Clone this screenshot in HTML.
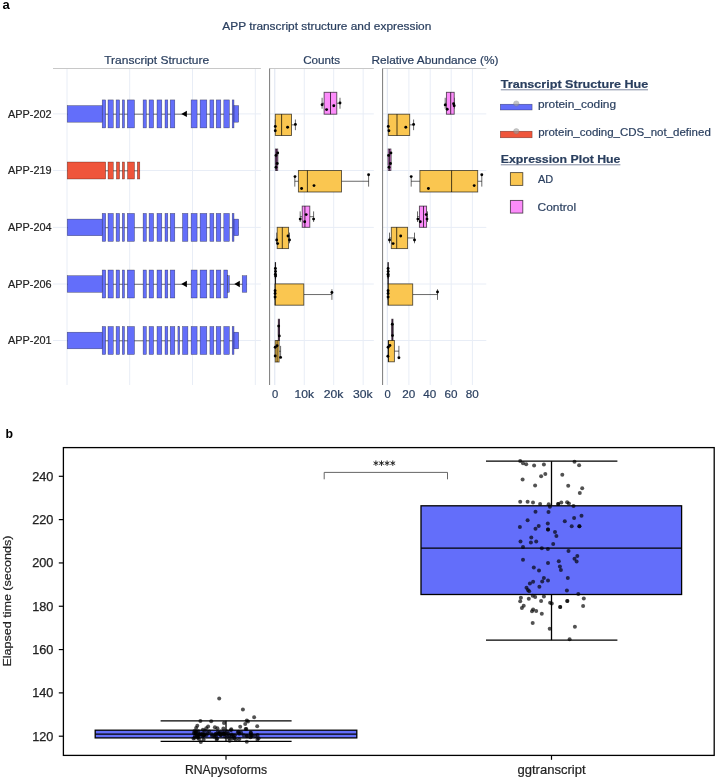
<!DOCTYPE html>
<html><head><meta charset="utf-8"><style>
html,body{margin:0;padding:0;background:#fff;}
svg{display:block;will-change:transform;}
text{font-family:"Liberation Sans",sans-serif;}
</style></head><body>
<svg width="718" height="779" viewBox="0 0 718 779">
<rect width="718" height="779" fill="#fff"/>
<text x="2.60" y="9.20" font-size="13" fill="#000" text-anchor="start" font-weight="bold" >a</text>
<text x="222.30" y="29.50" font-size="10.3" fill="#2a3f5f" text-anchor="start" textLength="209" lengthAdjust="spacingAndGlyphs"  stroke="#2a3f5f" stroke-width="0.2">APP transcript structure and expression</text>
<text x="104.20" y="64.30" font-size="10.8" fill="#2a3f5f" text-anchor="start" textLength="105" lengthAdjust="spacingAndGlyphs"  stroke="#2a3f5f" stroke-width="0.2">Transcript Structure</text>
<text x="303.20" y="64.30" font-size="10.8" fill="#2a3f5f" text-anchor="start" textLength="37" lengthAdjust="spacingAndGlyphs"  stroke="#2a3f5f" stroke-width="0.2">Counts</text>
<text x="371.40" y="64.30" font-size="10.8" fill="#2a3f5f" text-anchor="start" textLength="127" lengthAdjust="spacingAndGlyphs"  stroke="#2a3f5f" stroke-width="0.2">Relative Abundance (%)</text>
<line x1="67.00" y1="68.50" x2="67.00" y2="385.00" stroke="#E8EDF6" stroke-width="1" />
<line x1="129.70" y1="68.50" x2="129.70" y2="385.00" stroke="#E8EDF6" stroke-width="1" />
<line x1="192.50" y1="68.50" x2="192.50" y2="385.00" stroke="#E8EDF6" stroke-width="1" />
<line x1="255.30" y1="68.50" x2="255.30" y2="385.00" stroke="#E8EDF6" stroke-width="1" />
<line x1="53.00" y1="113.90" x2="260.90" y2="113.90" stroke="#E8EDF6" stroke-width="1" />
<line x1="269.60" y1="113.90" x2="373.80" y2="113.90" stroke="#E8EDF6" stroke-width="1" />
<line x1="382.40" y1="113.90" x2="486.30" y2="113.90" stroke="#E8EDF6" stroke-width="1" />
<line x1="53.00" y1="170.50" x2="260.90" y2="170.50" stroke="#E8EDF6" stroke-width="1" />
<line x1="269.60" y1="170.50" x2="373.80" y2="170.50" stroke="#E8EDF6" stroke-width="1" />
<line x1="382.40" y1="170.50" x2="486.30" y2="170.50" stroke="#E8EDF6" stroke-width="1" />
<line x1="53.00" y1="227.40" x2="260.90" y2="227.40" stroke="#E8EDF6" stroke-width="1" />
<line x1="269.60" y1="227.40" x2="373.80" y2="227.40" stroke="#E8EDF6" stroke-width="1" />
<line x1="382.40" y1="227.40" x2="486.30" y2="227.40" stroke="#E8EDF6" stroke-width="1" />
<line x1="53.00" y1="284.00" x2="260.90" y2="284.00" stroke="#E8EDF6" stroke-width="1" />
<line x1="269.60" y1="284.00" x2="373.80" y2="284.00" stroke="#E8EDF6" stroke-width="1" />
<line x1="382.40" y1="284.00" x2="486.30" y2="284.00" stroke="#E8EDF6" stroke-width="1" />
<line x1="53.00" y1="340.50" x2="260.90" y2="340.50" stroke="#E8EDF6" stroke-width="1" />
<line x1="269.60" y1="340.50" x2="373.80" y2="340.50" stroke="#E8EDF6" stroke-width="1" />
<line x1="382.40" y1="340.50" x2="486.30" y2="340.50" stroke="#E8EDF6" stroke-width="1" />
<line x1="274.80" y1="68.50" x2="274.80" y2="385.00" stroke="#DCE3F0" stroke-width="1" />
<line x1="304.25" y1="68.50" x2="304.25" y2="385.00" stroke="#E8EDF6" stroke-width="1" />
<line x1="333.70" y1="68.50" x2="333.70" y2="385.00" stroke="#E8EDF6" stroke-width="1" />
<line x1="363.15" y1="68.50" x2="363.15" y2="385.00" stroke="#E8EDF6" stroke-width="1" />
<line x1="387.30" y1="68.50" x2="387.30" y2="385.00" stroke="#DCE3F0" stroke-width="1" />
<line x1="408.90" y1="68.50" x2="408.90" y2="385.00" stroke="#E8EDF6" stroke-width="1" />
<line x1="430.20" y1="68.50" x2="430.20" y2="385.00" stroke="#E8EDF6" stroke-width="1" />
<line x1="451.20" y1="68.50" x2="451.20" y2="385.00" stroke="#E8EDF6" stroke-width="1" />
<line x1="472.40" y1="68.50" x2="472.40" y2="385.00" stroke="#E8EDF6" stroke-width="1" />
<line x1="53.00" y1="68.50" x2="260.90" y2="68.50" stroke="#C8C8C8" stroke-width="1" />
<line x1="269.60" y1="68.50" x2="373.80" y2="68.50" stroke="#C8C8C8" stroke-width="1" />
<line x1="382.40" y1="68.50" x2="486.30" y2="68.50" stroke="#C8C8C8" stroke-width="1" />
<line x1="269.60" y1="68.50" x2="269.60" y2="385.00" stroke="#7a7a7a" stroke-width="1" />
<line x1="382.60" y1="68.50" x2="382.60" y2="385.00" stroke="#7a7a7a" stroke-width="1" />
<text x="51.60" y="117.80" font-size="11" fill="#222" text-anchor="end" textLength="43.6" lengthAdjust="spacingAndGlyphs"  stroke="#222" stroke-width="0.2">APP-202</text>
<text x="51.60" y="174.40" font-size="11" fill="#222" text-anchor="end" textLength="43.6" lengthAdjust="spacingAndGlyphs"  stroke="#222" stroke-width="0.2">APP-219</text>
<text x="51.60" y="231.30" font-size="11" fill="#222" text-anchor="end" textLength="43.6" lengthAdjust="spacingAndGlyphs"  stroke="#222" stroke-width="0.2">APP-204</text>
<text x="51.60" y="287.90" font-size="11" fill="#222" text-anchor="end" textLength="43.6" lengthAdjust="spacingAndGlyphs"  stroke="#222" stroke-width="0.2">APP-206</text>
<text x="51.60" y="344.40" font-size="11" fill="#222" text-anchor="end" textLength="43.6" lengthAdjust="spacingAndGlyphs"  stroke="#222" stroke-width="0.2">APP-201</text>
<line x1="67.20" y1="114.20" x2="238.70" y2="114.20" stroke="#707070" stroke-width="1" />
<rect x="67.20" y="105.60" width="35.30" height="16.60" fill="#636EFA" stroke="rgba(0,0,0,0.55)" stroke-width="0.5" />
<rect x="102.20" y="99.90" width="3.50" height="28.00" fill="#636EFA" stroke="rgba(0,0,0,0.55)" stroke-width="0.5" />
<rect x="108.00" y="99.90" width="5.30" height="28.00" fill="#636EFA" stroke="rgba(0,0,0,0.55)" stroke-width="0.5" />
<rect x="116.10" y="99.90" width="3.50" height="28.00" fill="#636EFA" stroke="rgba(0,0,0,0.55)" stroke-width="0.5" />
<rect x="122.30" y="99.90" width="2.20" height="28.00" fill="#636EFA" stroke="rgba(0,0,0,0.55)" stroke-width="0.5" />
<rect x="127.30" y="99.90" width="7.20" height="28.00" fill="#636EFA" stroke="rgba(0,0,0,0.55)" stroke-width="0.5" />
<rect x="143.10" y="99.90" width="3.30" height="28.00" fill="#636EFA" stroke="rgba(0,0,0,0.55)" stroke-width="0.5" />
<rect x="149.10" y="99.90" width="4.50" height="28.00" fill="#636EFA" stroke="rgba(0,0,0,0.55)" stroke-width="0.5" />
<rect x="157.00" y="99.90" width="4.80" height="28.00" fill="#636EFA" stroke="rgba(0,0,0,0.55)" stroke-width="0.5" />
<rect x="165.00" y="99.90" width="2.80" height="28.00" fill="#636EFA" stroke="rgba(0,0,0,0.55)" stroke-width="0.5" />
<rect x="170.20" y="99.90" width="4.60" height="28.00" fill="#636EFA" stroke="rgba(0,0,0,0.55)" stroke-width="0.5" />
<rect x="191.10" y="99.90" width="6.00" height="28.00" fill="#636EFA" stroke="rgba(0,0,0,0.55)" stroke-width="0.5" />
<rect x="200.10" y="99.90" width="6.70" height="28.00" fill="#636EFA" stroke="rgba(0,0,0,0.55)" stroke-width="0.5" />
<rect x="209.90" y="99.90" width="3.90" height="28.00" fill="#636EFA" stroke="rgba(0,0,0,0.55)" stroke-width="0.5" />
<rect x="216.20" y="99.90" width="4.60" height="28.00" fill="#636EFA" stroke="rgba(0,0,0,0.55)" stroke-width="0.5" />
<rect x="223.80" y="99.90" width="5.60" height="28.00" fill="#636EFA" stroke="rgba(0,0,0,0.55)" stroke-width="0.5" />
<rect x="232.20" y="99.90" width="1.80" height="28.00" fill="#636EFA" stroke="rgba(0,0,0,0.55)" stroke-width="0.5" />
<rect x="234.00" y="105.60" width="4.70" height="16.60" fill="#636EFA" stroke="rgba(0,0,0,0.55)" stroke-width="0.5" />
<polygon points="181.30,113.90 186.90,110.70 186.90,117.10" fill="#000"/>
<line x1="67.20" y1="170.80" x2="139.80" y2="170.80" stroke="#707070" stroke-width="1" />
<rect x="67.20" y="162.00" width="38.50" height="17.00" fill="#EF553B" stroke="rgba(0,0,0,0.55)" stroke-width="0.5" />
<rect x="108.00" y="162.00" width="5.30" height="17.00" fill="#EF553B" stroke="rgba(0,0,0,0.55)" stroke-width="0.5" />
<rect x="116.40" y="162.00" width="3.20" height="17.00" fill="#EF553B" stroke="rgba(0,0,0,0.55)" stroke-width="0.5" />
<rect x="122.30" y="162.00" width="2.20" height="17.00" fill="#EF553B" stroke="rgba(0,0,0,0.55)" stroke-width="0.5" />
<rect x="127.50" y="162.00" width="7.00" height="17.00" fill="#EF553B" stroke="rgba(0,0,0,0.55)" stroke-width="0.5" />
<rect x="137.30" y="162.00" width="2.50" height="17.00" fill="#EF553B" stroke="rgba(0,0,0,0.55)" stroke-width="0.5" />
<line x1="67.20" y1="227.70" x2="238.70" y2="227.70" stroke="#707070" stroke-width="1" />
<rect x="67.20" y="219.10" width="35.30" height="16.60" fill="#636EFA" stroke="rgba(0,0,0,0.55)" stroke-width="0.5" />
<rect x="102.20" y="213.40" width="3.50" height="28.00" fill="#636EFA" stroke="rgba(0,0,0,0.55)" stroke-width="0.5" />
<rect x="108.00" y="213.40" width="5.30" height="28.00" fill="#636EFA" stroke="rgba(0,0,0,0.55)" stroke-width="0.5" />
<rect x="116.10" y="213.40" width="3.50" height="28.00" fill="#636EFA" stroke="rgba(0,0,0,0.55)" stroke-width="0.5" />
<rect x="122.30" y="213.40" width="2.20" height="28.00" fill="#636EFA" stroke="rgba(0,0,0,0.55)" stroke-width="0.5" />
<rect x="127.30" y="213.40" width="7.20" height="28.00" fill="#636EFA" stroke="rgba(0,0,0,0.55)" stroke-width="0.5" />
<rect x="143.10" y="213.40" width="3.30" height="28.00" fill="#636EFA" stroke="rgba(0,0,0,0.55)" stroke-width="0.5" />
<rect x="149.10" y="213.40" width="4.50" height="28.00" fill="#636EFA" stroke="rgba(0,0,0,0.55)" stroke-width="0.5" />
<rect x="157.00" y="213.40" width="4.80" height="28.00" fill="#636EFA" stroke="rgba(0,0,0,0.55)" stroke-width="0.5" />
<rect x="165.00" y="213.40" width="2.80" height="28.00" fill="#636EFA" stroke="rgba(0,0,0,0.55)" stroke-width="0.5" />
<rect x="170.20" y="213.40" width="4.60" height="28.00" fill="#636EFA" stroke="rgba(0,0,0,0.55)" stroke-width="0.5" />
<rect x="182.50" y="213.40" width="5.40" height="28.00" fill="#636EFA" stroke="rgba(0,0,0,0.55)" stroke-width="0.5" />
<rect x="191.10" y="213.40" width="6.00" height="28.00" fill="#636EFA" stroke="rgba(0,0,0,0.55)" stroke-width="0.5" />
<rect x="200.10" y="213.40" width="6.70" height="28.00" fill="#636EFA" stroke="rgba(0,0,0,0.55)" stroke-width="0.5" />
<rect x="209.90" y="213.40" width="3.90" height="28.00" fill="#636EFA" stroke="rgba(0,0,0,0.55)" stroke-width="0.5" />
<rect x="216.20" y="213.40" width="4.60" height="28.00" fill="#636EFA" stroke="rgba(0,0,0,0.55)" stroke-width="0.5" />
<rect x="223.80" y="213.40" width="5.60" height="28.00" fill="#636EFA" stroke="rgba(0,0,0,0.55)" stroke-width="0.5" />
<rect x="232.20" y="213.40" width="1.80" height="28.00" fill="#636EFA" stroke="rgba(0,0,0,0.55)" stroke-width="0.5" />
<rect x="234.00" y="219.10" width="4.70" height="16.60" fill="#636EFA" stroke="rgba(0,0,0,0.55)" stroke-width="0.5" />
<line x1="67.20" y1="284.30" x2="246.80" y2="284.30" stroke="#707070" stroke-width="1" />
<rect x="67.20" y="275.70" width="35.30" height="16.60" fill="#636EFA" stroke="rgba(0,0,0,0.55)" stroke-width="0.5" />
<rect x="102.20" y="270.00" width="3.50" height="28.00" fill="#636EFA" stroke="rgba(0,0,0,0.55)" stroke-width="0.5" />
<rect x="108.00" y="270.00" width="5.30" height="28.00" fill="#636EFA" stroke="rgba(0,0,0,0.55)" stroke-width="0.5" />
<rect x="116.10" y="270.00" width="3.50" height="28.00" fill="#636EFA" stroke="rgba(0,0,0,0.55)" stroke-width="0.5" />
<rect x="122.30" y="270.00" width="2.20" height="28.00" fill="#636EFA" stroke="rgba(0,0,0,0.55)" stroke-width="0.5" />
<rect x="127.30" y="270.00" width="7.20" height="28.00" fill="#636EFA" stroke="rgba(0,0,0,0.55)" stroke-width="0.5" />
<rect x="143.10" y="270.00" width="3.30" height="28.00" fill="#636EFA" stroke="rgba(0,0,0,0.55)" stroke-width="0.5" />
<rect x="149.10" y="270.00" width="4.50" height="28.00" fill="#636EFA" stroke="rgba(0,0,0,0.55)" stroke-width="0.5" />
<rect x="157.00" y="270.00" width="4.80" height="28.00" fill="#636EFA" stroke="rgba(0,0,0,0.55)" stroke-width="0.5" />
<rect x="165.00" y="270.00" width="2.80" height="28.00" fill="#636EFA" stroke="rgba(0,0,0,0.55)" stroke-width="0.5" />
<rect x="170.20" y="270.00" width="4.60" height="28.00" fill="#636EFA" stroke="rgba(0,0,0,0.55)" stroke-width="0.5" />
<rect x="191.10" y="270.00" width="6.00" height="28.00" fill="#636EFA" stroke="rgba(0,0,0,0.55)" stroke-width="0.5" />
<rect x="200.10" y="270.00" width="6.70" height="28.00" fill="#636EFA" stroke="rgba(0,0,0,0.55)" stroke-width="0.5" />
<rect x="209.90" y="270.00" width="3.90" height="28.00" fill="#636EFA" stroke="rgba(0,0,0,0.55)" stroke-width="0.5" />
<rect x="216.20" y="270.00" width="4.60" height="28.00" fill="#636EFA" stroke="rgba(0,0,0,0.55)" stroke-width="0.5" />
<rect x="223.80" y="270.00" width="3.80" height="28.00" fill="#636EFA" stroke="rgba(0,0,0,0.55)" stroke-width="0.5" />
<rect x="227.60" y="275.70" width="1.80" height="16.60" fill="#636EFA" stroke="rgba(0,0,0,0.55)" stroke-width="0.5" />
<polygon points="181.30,284.00 186.90,280.80 186.90,287.20" fill="#000"/>
<polygon points="234.30,284.00 239.80,280.80 239.80,287.20" fill="#000"/>
<rect x="242.20" y="275.70" width="4.60" height="16.60" fill="#636EFA" stroke="rgba(0,0,0,0.55)" stroke-width="0.5" />
<line x1="67.20" y1="340.80" x2="238.70" y2="340.80" stroke="#707070" stroke-width="1" />
<rect x="67.20" y="332.20" width="35.30" height="16.60" fill="#636EFA" stroke="rgba(0,0,0,0.55)" stroke-width="0.5" />
<rect x="102.20" y="326.50" width="3.50" height="28.00" fill="#636EFA" stroke="rgba(0,0,0,0.55)" stroke-width="0.5" />
<rect x="108.00" y="326.50" width="5.30" height="28.00" fill="#636EFA" stroke="rgba(0,0,0,0.55)" stroke-width="0.5" />
<rect x="116.10" y="326.50" width="3.50" height="28.00" fill="#636EFA" stroke="rgba(0,0,0,0.55)" stroke-width="0.5" />
<rect x="122.30" y="326.50" width="2.20" height="28.00" fill="#636EFA" stroke="rgba(0,0,0,0.55)" stroke-width="0.5" />
<rect x="127.30" y="326.50" width="7.20" height="28.00" fill="#636EFA" stroke="rgba(0,0,0,0.55)" stroke-width="0.5" />
<rect x="143.10" y="326.50" width="3.30" height="28.00" fill="#636EFA" stroke="rgba(0,0,0,0.55)" stroke-width="0.5" />
<rect x="149.10" y="326.50" width="4.50" height="28.00" fill="#636EFA" stroke="rgba(0,0,0,0.55)" stroke-width="0.5" />
<rect x="157.00" y="326.50" width="4.80" height="28.00" fill="#636EFA" stroke="rgba(0,0,0,0.55)" stroke-width="0.5" />
<rect x="165.00" y="326.50" width="2.80" height="28.00" fill="#636EFA" stroke="rgba(0,0,0,0.55)" stroke-width="0.5" />
<rect x="170.20" y="326.50" width="4.60" height="28.00" fill="#636EFA" stroke="rgba(0,0,0,0.55)" stroke-width="0.5" />
<rect x="177.90" y="326.50" width="1.80" height="28.00" fill="#636EFA" stroke="rgba(0,0,0,0.55)" stroke-width="0.5" />
<rect x="182.50" y="326.50" width="5.40" height="28.00" fill="#636EFA" stroke="rgba(0,0,0,0.55)" stroke-width="0.5" />
<rect x="191.10" y="326.50" width="6.00" height="28.00" fill="#636EFA" stroke="rgba(0,0,0,0.55)" stroke-width="0.5" />
<rect x="200.10" y="326.50" width="6.70" height="28.00" fill="#636EFA" stroke="rgba(0,0,0,0.55)" stroke-width="0.5" />
<rect x="209.90" y="326.50" width="3.90" height="28.00" fill="#636EFA" stroke="rgba(0,0,0,0.55)" stroke-width="0.5" />
<rect x="216.20" y="326.50" width="4.60" height="28.00" fill="#636EFA" stroke="rgba(0,0,0,0.55)" stroke-width="0.5" />
<rect x="223.80" y="326.50" width="5.60" height="28.00" fill="#636EFA" stroke="rgba(0,0,0,0.55)" stroke-width="0.5" />
<rect x="232.20" y="326.50" width="1.80" height="28.00" fill="#636EFA" stroke="rgba(0,0,0,0.55)" stroke-width="0.5" />
<rect x="234.00" y="332.20" width="4.70" height="16.60" fill="#636EFA" stroke="rgba(0,0,0,0.55)" stroke-width="0.5" />
<line x1="322.10" y1="103.25" x2="324.10" y2="103.25" stroke="rgba(0,0,0,0.66)" stroke-width="0.9" />
<line x1="336.80" y1="103.25" x2="340.00" y2="103.25" stroke="rgba(0,0,0,0.66)" stroke-width="0.9" />
<line x1="322.10" y1="97.78" x2="322.10" y2="108.72" stroke="rgba(0,0,0,0.66)" stroke-width="0.9" />
<line x1="340.00" y1="97.78" x2="340.00" y2="108.72" stroke="rgba(0,0,0,0.66)" stroke-width="0.9" />
<rect x="324.10" y="92.30" width="12.70" height="21.90" fill="#FC8CFA" stroke="rgba(0,0,0,0.66)" stroke-width="0.9" />
<line x1="330.50" y1="92.30" x2="330.50" y2="114.20" stroke="rgba(0,0,0,0.75)" stroke-width="0.95" />
<circle cx="322.10" cy="104.70" r="1.45" fill="#000" />
<circle cx="326.60" cy="109.60" r="1.45" fill="#000" />
<circle cx="333.80" cy="105.70" r="1.45" fill="#000" />
<circle cx="340.00" cy="103.00" r="1.45" fill="#000" />
<line x1="275.30" y1="124.85" x2="275.30" y2="124.85" stroke="rgba(0,0,0,0.66)" stroke-width="0.9" />
<line x1="291.50" y1="124.85" x2="295.40" y2="124.85" stroke="rgba(0,0,0,0.66)" stroke-width="0.9" />
<line x1="275.30" y1="119.52" x2="275.30" y2="130.17" stroke="rgba(0,0,0,0.66)" stroke-width="0.9" />
<line x1="295.40" y1="119.52" x2="295.40" y2="130.17" stroke="rgba(0,0,0,0.66)" stroke-width="0.9" />
<rect x="275.30" y="114.20" width="16.20" height="21.30" fill="#FAC650" stroke="rgba(0,0,0,0.66)" stroke-width="0.9" />
<line x1="281.60" y1="114.20" x2="281.60" y2="135.50" stroke="rgba(0,0,0,0.75)" stroke-width="0.95" />
<circle cx="275.30" cy="126.40" r="1.45" fill="#000" />
<circle cx="275.30" cy="130.70" r="1.45" fill="#000" />
<circle cx="287.60" cy="127.20" r="1.45" fill="#000" />
<circle cx="295.40" cy="124.40" r="1.45" fill="#000" />
<line x1="275.40" y1="159.75" x2="275.40" y2="159.75" stroke="rgba(0,0,0,0.66)" stroke-width="0.9" />
<line x1="277.70" y1="159.75" x2="277.70" y2="159.75" stroke="rgba(0,0,0,0.66)" stroke-width="0.9" />
<line x1="275.40" y1="154.38" x2="275.40" y2="165.12" stroke="rgba(0,0,0,0.66)" stroke-width="0.9" />
<line x1="277.70" y1="154.38" x2="277.70" y2="165.12" stroke="rgba(0,0,0,0.66)" stroke-width="0.9" />
<rect x="275.40" y="149.00" width="2.30" height="21.50" fill="#FC8CFA" stroke="rgba(0,0,0,0.66)" stroke-width="0.9" />
<line x1="276.50" y1="149.00" x2="276.50" y2="170.50" stroke="rgba(0,0,0,0.75)" stroke-width="0.95" />
<circle cx="277.70" cy="153.00" r="1.45" fill="#000" />
<circle cx="276.00" cy="155.40" r="1.45" fill="#000" />
<circle cx="277.20" cy="163.50" r="1.45" fill="#000" />
<circle cx="276.00" cy="167.20" r="1.45" fill="#000" />
<line x1="294.80" y1="181.25" x2="298.40" y2="181.25" stroke="rgba(0,0,0,0.66)" stroke-width="0.9" />
<line x1="341.50" y1="181.25" x2="368.60" y2="181.25" stroke="rgba(0,0,0,0.66)" stroke-width="0.9" />
<line x1="294.80" y1="175.88" x2="294.80" y2="186.62" stroke="rgba(0,0,0,0.66)" stroke-width="0.9" />
<line x1="368.60" y1="175.88" x2="368.60" y2="186.62" stroke="rgba(0,0,0,0.66)" stroke-width="0.9" />
<rect x="298.40" y="170.50" width="43.10" height="21.50" fill="#FAC650" stroke="rgba(0,0,0,0.66)" stroke-width="0.9" />
<line x1="307.40" y1="170.50" x2="307.40" y2="192.00" stroke="rgba(0,0,0,0.75)" stroke-width="0.95" />
<circle cx="295.00" cy="176.60" r="1.45" fill="#000" />
<circle cx="301.60" cy="188.50" r="1.45" fill="#000" />
<circle cx="314.00" cy="185.60" r="1.45" fill="#000" />
<circle cx="368.60" cy="174.80" r="1.45" fill="#000" />
<line x1="300.20" y1="216.70" x2="302.20" y2="216.70" stroke="rgba(0,0,0,0.66)" stroke-width="0.9" />
<line x1="309.80" y1="216.70" x2="313.60" y2="216.70" stroke="rgba(0,0,0,0.66)" stroke-width="0.9" />
<line x1="300.20" y1="211.40" x2="300.20" y2="222.00" stroke="rgba(0,0,0,0.66)" stroke-width="0.9" />
<line x1="313.60" y1="211.40" x2="313.60" y2="222.00" stroke="rgba(0,0,0,0.66)" stroke-width="0.9" />
<rect x="302.20" y="206.10" width="7.60" height="21.20" fill="#FC8CFA" stroke="rgba(0,0,0,0.66)" stroke-width="0.9" />
<line x1="304.90" y1="206.10" x2="304.90" y2="227.30" stroke="rgba(0,0,0,0.75)" stroke-width="0.95" />
<circle cx="300.20" cy="219.10" r="1.45" fill="#000" />
<circle cx="306.20" cy="214.60" r="1.45" fill="#000" />
<circle cx="304.70" cy="221.80" r="1.45" fill="#000" />
<circle cx="313.60" cy="219.10" r="1.45" fill="#000" />
<line x1="276.70" y1="237.95" x2="277.20" y2="237.95" stroke="rgba(0,0,0,0.66)" stroke-width="0.9" />
<line x1="288.60" y1="237.95" x2="289.50" y2="237.95" stroke="rgba(0,0,0,0.66)" stroke-width="0.9" />
<line x1="276.70" y1="232.62" x2="276.70" y2="243.27" stroke="rgba(0,0,0,0.66)" stroke-width="0.9" />
<line x1="289.50" y1="232.62" x2="289.50" y2="243.27" stroke="rgba(0,0,0,0.66)" stroke-width="0.9" />
<rect x="277.20" y="227.30" width="11.40" height="21.30" fill="#FAC650" stroke="rgba(0,0,0,0.66)" stroke-width="0.9" />
<line x1="282.30" y1="227.30" x2="282.30" y2="248.60" stroke="rgba(0,0,0,0.75)" stroke-width="0.95" />
<circle cx="276.70" cy="240.00" r="1.45" fill="#000" />
<circle cx="277.60" cy="243.60" r="1.45" fill="#000" />
<circle cx="288.00" cy="236.00" r="1.45" fill="#000" />
<circle cx="289.50" cy="240.00" r="1.45" fill="#000" />
<line x1="275.30" y1="273.20" x2="275.30" y2="273.20" stroke="rgba(0,0,0,0.66)" stroke-width="0.9" />
<line x1="275.60" y1="273.20" x2="275.60" y2="273.20" stroke="rgba(0,0,0,0.66)" stroke-width="0.9" />
<line x1="275.30" y1="267.85" x2="275.30" y2="278.55" stroke="rgba(0,0,0,0.66)" stroke-width="0.9" />
<line x1="275.60" y1="267.85" x2="275.60" y2="278.55" stroke="rgba(0,0,0,0.66)" stroke-width="0.9" />
<rect x="275.30" y="262.50" width="0.30" height="21.40" fill="#FC8CFA" stroke="rgba(0,0,0,0.66)" stroke-width="0.9" />
<line x1="275.40" y1="262.50" x2="275.40" y2="283.90" stroke="rgba(0,0,0,0.75)" stroke-width="0.95" />
<circle cx="275.40" cy="268.50" r="1.45" fill="#000" />
<circle cx="275.50" cy="271.50" r="1.45" fill="#000" />
<circle cx="275.40" cy="274.20" r="1.45" fill="#000" />
<circle cx="275.60" cy="276.00" r="1.45" fill="#000" />
<line x1="275.00" y1="294.55" x2="275.00" y2="294.55" stroke="rgba(0,0,0,0.66)" stroke-width="0.9" />
<line x1="303.80" y1="294.55" x2="331.90" y2="294.55" stroke="rgba(0,0,0,0.66)" stroke-width="0.9" />
<line x1="275.00" y1="289.22" x2="275.00" y2="299.87" stroke="rgba(0,0,0,0.66)" stroke-width="0.9" />
<line x1="331.90" y1="289.22" x2="331.90" y2="299.87" stroke="rgba(0,0,0,0.66)" stroke-width="0.9" />
<rect x="275.00" y="283.90" width="28.80" height="21.30" fill="#FAC650" stroke="rgba(0,0,0,0.66)" stroke-width="0.9" />
<line x1="275.20" y1="283.90" x2="275.20" y2="305.20" stroke="rgba(0,0,0,0.75)" stroke-width="0.95" />
<circle cx="275.10" cy="290.70" r="1.45" fill="#000" />
<circle cx="275.10" cy="293.50" r="1.45" fill="#000" />
<circle cx="275.10" cy="297.00" r="1.45" fill="#000" />
<circle cx="331.90" cy="292.50" r="1.45" fill="#000" />
<line x1="278.30" y1="329.85" x2="278.30" y2="329.85" stroke="rgba(0,0,0,0.66)" stroke-width="0.9" />
<line x1="279.50" y1="329.85" x2="279.50" y2="329.85" stroke="rgba(0,0,0,0.66)" stroke-width="0.9" />
<line x1="278.30" y1="324.53" x2="278.30" y2="335.18" stroke="rgba(0,0,0,0.66)" stroke-width="0.9" />
<line x1="279.50" y1="324.53" x2="279.50" y2="335.18" stroke="rgba(0,0,0,0.66)" stroke-width="0.9" />
<rect x="278.30" y="319.20" width="1.20" height="21.30" fill="#FC8CFA" stroke="rgba(0,0,0,0.66)" stroke-width="0.9" />
<line x1="278.90" y1="319.20" x2="278.90" y2="340.50" stroke="rgba(0,0,0,0.75)" stroke-width="0.95" />
<circle cx="278.70" cy="326.10" r="1.45" fill="#000" />
<circle cx="279.30" cy="335.90" r="1.45" fill="#000" />
<line x1="275.20" y1="351.25" x2="275.20" y2="351.25" stroke="rgba(0,0,0,0.66)" stroke-width="0.9" />
<line x1="279.10" y1="351.25" x2="280.60" y2="351.25" stroke="rgba(0,0,0,0.66)" stroke-width="0.9" />
<line x1="275.20" y1="345.88" x2="275.20" y2="356.62" stroke="rgba(0,0,0,0.66)" stroke-width="0.9" />
<line x1="280.60" y1="345.88" x2="280.60" y2="356.62" stroke="rgba(0,0,0,0.66)" stroke-width="0.9" />
<rect x="275.20" y="340.50" width="3.90" height="21.50" fill="#FAC650" stroke="rgba(0,0,0,0.66)" stroke-width="0.9" />
<line x1="277.10" y1="340.50" x2="277.10" y2="362.00" stroke="rgba(0,0,0,0.75)" stroke-width="0.95" />
<circle cx="275.20" cy="347.20" r="1.45" fill="#000" />
<circle cx="275.20" cy="356.00" r="1.45" fill="#000" />
<circle cx="280.60" cy="357.40" r="1.45" fill="#000" />
<circle cx="277.10" cy="345.80" r="1.45" fill="#000" />
<line x1="445.20" y1="103.25" x2="446.40" y2="103.25" stroke="rgba(0,0,0,0.66)" stroke-width="0.9" />
<line x1="454.20" y1="103.25" x2="454.20" y2="103.25" stroke="rgba(0,0,0,0.66)" stroke-width="0.9" />
<line x1="445.20" y1="97.78" x2="445.20" y2="108.72" stroke="rgba(0,0,0,0.66)" stroke-width="0.9" />
<line x1="454.20" y1="97.78" x2="454.20" y2="108.72" stroke="rgba(0,0,0,0.66)" stroke-width="0.9" />
<rect x="446.40" y="92.30" width="7.80" height="21.90" fill="#FC8CFA" stroke="rgba(0,0,0,0.66)" stroke-width="0.9" />
<line x1="450.70" y1="92.30" x2="450.70" y2="114.20" stroke="rgba(0,0,0,0.75)" stroke-width="0.95" />
<circle cx="445.20" cy="104.90" r="1.45" fill="#000" />
<circle cx="447.20" cy="109.20" r="1.45" fill="#000" />
<circle cx="453.60" cy="103.80" r="1.45" fill="#000" />
<circle cx="454.20" cy="105.70" r="1.45" fill="#000" />
<line x1="388.30" y1="124.85" x2="388.30" y2="124.85" stroke="rgba(0,0,0,0.66)" stroke-width="0.9" />
<line x1="409.70" y1="124.85" x2="413.60" y2="124.85" stroke="rgba(0,0,0,0.66)" stroke-width="0.9" />
<line x1="388.30" y1="119.52" x2="388.30" y2="130.17" stroke="rgba(0,0,0,0.66)" stroke-width="0.9" />
<line x1="413.60" y1="119.52" x2="413.60" y2="130.17" stroke="rgba(0,0,0,0.66)" stroke-width="0.9" />
<rect x="388.30" y="114.20" width="21.40" height="21.30" fill="#FAC650" stroke="rgba(0,0,0,0.66)" stroke-width="0.9" />
<line x1="397.00" y1="114.20" x2="397.00" y2="135.50" stroke="rgba(0,0,0,0.75)" stroke-width="0.95" />
<circle cx="388.30" cy="126.40" r="1.45" fill="#000" />
<circle cx="388.90" cy="130.70" r="1.45" fill="#000" />
<circle cx="405.80" cy="127.20" r="1.45" fill="#000" />
<circle cx="413.60" cy="124.40" r="1.45" fill="#000" />
<line x1="388.20" y1="159.75" x2="388.20" y2="159.75" stroke="rgba(0,0,0,0.66)" stroke-width="0.9" />
<line x1="390.90" y1="159.75" x2="390.90" y2="159.75" stroke="rgba(0,0,0,0.66)" stroke-width="0.9" />
<line x1="388.20" y1="154.38" x2="388.20" y2="165.12" stroke="rgba(0,0,0,0.66)" stroke-width="0.9" />
<line x1="390.90" y1="154.38" x2="390.90" y2="165.12" stroke="rgba(0,0,0,0.66)" stroke-width="0.9" />
<rect x="388.20" y="149.00" width="2.70" height="21.50" fill="#FC8CFA" stroke="rgba(0,0,0,0.66)" stroke-width="0.9" />
<line x1="389.50" y1="149.00" x2="389.50" y2="170.50" stroke="rgba(0,0,0,0.75)" stroke-width="0.95" />
<circle cx="390.90" cy="153.00" r="1.45" fill="#000" />
<circle cx="388.60" cy="155.40" r="1.45" fill="#000" />
<circle cx="390.40" cy="163.50" r="1.45" fill="#000" />
<circle cx="389.00" cy="167.20" r="1.45" fill="#000" />
<line x1="411.20" y1="181.25" x2="419.90" y2="181.25" stroke="rgba(0,0,0,0.66)" stroke-width="0.9" />
<line x1="477.70" y1="181.25" x2="481.80" y2="181.25" stroke="rgba(0,0,0,0.66)" stroke-width="0.9" />
<line x1="411.20" y1="175.88" x2="411.20" y2="186.62" stroke="rgba(0,0,0,0.66)" stroke-width="0.9" />
<line x1="481.80" y1="175.88" x2="481.80" y2="186.62" stroke="rgba(0,0,0,0.66)" stroke-width="0.9" />
<rect x="419.90" y="170.50" width="57.80" height="21.50" fill="#FAC650" stroke="rgba(0,0,0,0.66)" stroke-width="0.9" />
<line x1="451.60" y1="170.50" x2="451.60" y2="192.00" stroke="rgba(0,0,0,0.75)" stroke-width="0.95" />
<circle cx="411.20" cy="176.60" r="1.45" fill="#000" />
<circle cx="428.40" cy="188.50" r="1.45" fill="#000" />
<circle cx="474.20" cy="185.60" r="1.45" fill="#000" />
<circle cx="481.80" cy="174.80" r="1.45" fill="#000" />
<line x1="417.50" y1="216.70" x2="419.40" y2="216.70" stroke="rgba(0,0,0,0.66)" stroke-width="0.9" />
<line x1="426.60" y1="216.70" x2="427.50" y2="216.70" stroke="rgba(0,0,0,0.66)" stroke-width="0.9" />
<line x1="417.50" y1="211.40" x2="417.50" y2="222.00" stroke="rgba(0,0,0,0.66)" stroke-width="0.9" />
<line x1="427.50" y1="211.40" x2="427.50" y2="222.00" stroke="rgba(0,0,0,0.66)" stroke-width="0.9" />
<rect x="419.40" y="206.10" width="7.20" height="21.20" fill="#FC8CFA" stroke="rgba(0,0,0,0.66)" stroke-width="0.9" />
<line x1="423.50" y1="206.10" x2="423.50" y2="227.30" stroke="rgba(0,0,0,0.75)" stroke-width="0.95" />
<circle cx="417.90" cy="219.10" r="1.45" fill="#000" />
<circle cx="420.30" cy="221.80" r="1.45" fill="#000" />
<circle cx="426.20" cy="214.60" r="1.45" fill="#000" />
<circle cx="427.00" cy="219.10" r="1.45" fill="#000" />
<line x1="389.50" y1="237.95" x2="391.30" y2="237.95" stroke="rgba(0,0,0,0.66)" stroke-width="0.9" />
<line x1="407.60" y1="237.95" x2="414.50" y2="237.95" stroke="rgba(0,0,0,0.66)" stroke-width="0.9" />
<line x1="389.50" y1="232.62" x2="389.50" y2="243.27" stroke="rgba(0,0,0,0.66)" stroke-width="0.9" />
<line x1="414.50" y1="232.62" x2="414.50" y2="243.27" stroke="rgba(0,0,0,0.66)" stroke-width="0.9" />
<rect x="391.30" y="227.30" width="16.30" height="21.30" fill="#FAC650" stroke="rgba(0,0,0,0.66)" stroke-width="0.9" />
<line x1="396.70" y1="227.30" x2="396.70" y2="248.60" stroke="rgba(0,0,0,0.75)" stroke-width="0.95" />
<circle cx="389.50" cy="240.00" r="1.45" fill="#000" />
<circle cx="393.10" cy="243.60" r="1.45" fill="#000" />
<circle cx="400.70" cy="236.00" r="1.45" fill="#000" />
<circle cx="414.50" cy="240.00" r="1.45" fill="#000" />
<line x1="388.00" y1="273.20" x2="388.00" y2="273.20" stroke="rgba(0,0,0,0.66)" stroke-width="0.9" />
<line x1="388.30" y1="273.20" x2="388.30" y2="273.20" stroke="rgba(0,0,0,0.66)" stroke-width="0.9" />
<line x1="388.00" y1="267.85" x2="388.00" y2="278.55" stroke="rgba(0,0,0,0.66)" stroke-width="0.9" />
<line x1="388.30" y1="267.85" x2="388.30" y2="278.55" stroke="rgba(0,0,0,0.66)" stroke-width="0.9" />
<rect x="388.00" y="262.50" width="0.30" height="21.40" fill="#FC8CFA" stroke="rgba(0,0,0,0.66)" stroke-width="0.9" />
<line x1="388.10" y1="262.50" x2="388.10" y2="283.90" stroke="rgba(0,0,0,0.75)" stroke-width="0.95" />
<circle cx="388.10" cy="268.50" r="1.45" fill="#000" />
<circle cx="388.20" cy="271.50" r="1.45" fill="#000" />
<circle cx="388.10" cy="274.20" r="1.45" fill="#000" />
<circle cx="388.20" cy="276.00" r="1.45" fill="#000" />
<line x1="388.00" y1="294.55" x2="388.00" y2="294.55" stroke="rgba(0,0,0,0.66)" stroke-width="0.9" />
<line x1="412.70" y1="294.55" x2="437.50" y2="294.55" stroke="rgba(0,0,0,0.66)" stroke-width="0.9" />
<line x1="388.00" y1="289.22" x2="388.00" y2="299.87" stroke="rgba(0,0,0,0.66)" stroke-width="0.9" />
<line x1="437.50" y1="289.22" x2="437.50" y2="299.87" stroke="rgba(0,0,0,0.66)" stroke-width="0.9" />
<rect x="388.00" y="283.90" width="24.70" height="21.30" fill="#FAC650" stroke="rgba(0,0,0,0.66)" stroke-width="0.9" />
<line x1="388.20" y1="283.90" x2="388.20" y2="305.20" stroke="rgba(0,0,0,0.75)" stroke-width="0.95" />
<circle cx="388.10" cy="290.70" r="1.45" fill="#000" />
<circle cx="388.10" cy="293.50" r="1.45" fill="#000" />
<circle cx="388.10" cy="297.00" r="1.45" fill="#000" />
<circle cx="437.50" cy="292.00" r="1.45" fill="#000" />
<line x1="391.80" y1="329.85" x2="391.80" y2="329.85" stroke="rgba(0,0,0,0.66)" stroke-width="0.9" />
<line x1="393.00" y1="329.85" x2="393.00" y2="329.85" stroke="rgba(0,0,0,0.66)" stroke-width="0.9" />
<line x1="391.80" y1="324.53" x2="391.80" y2="335.18" stroke="rgba(0,0,0,0.66)" stroke-width="0.9" />
<line x1="393.00" y1="324.53" x2="393.00" y2="335.18" stroke="rgba(0,0,0,0.66)" stroke-width="0.9" />
<rect x="391.80" y="319.20" width="1.20" height="21.30" fill="#FC8CFA" stroke="rgba(0,0,0,0.66)" stroke-width="0.9" />
<line x1="392.40" y1="319.20" x2="392.40" y2="340.50" stroke="rgba(0,0,0,0.75)" stroke-width="0.95" />
<circle cx="392.30" cy="324.30" r="1.45" fill="#000" />
<circle cx="392.50" cy="335.60" r="1.45" fill="#000" />
<line x1="388.20" y1="351.15" x2="388.20" y2="351.15" stroke="rgba(0,0,0,0.66)" stroke-width="0.9" />
<line x1="394.40" y1="351.15" x2="398.90" y2="351.15" stroke="rgba(0,0,0,0.66)" stroke-width="0.9" />
<line x1="388.20" y1="345.82" x2="388.20" y2="356.47" stroke="rgba(0,0,0,0.66)" stroke-width="0.9" />
<line x1="398.90" y1="345.82" x2="398.90" y2="356.47" stroke="rgba(0,0,0,0.66)" stroke-width="0.9" />
<rect x="388.20" y="340.50" width="6.20" height="21.30" fill="#FAC650" stroke="rgba(0,0,0,0.66)" stroke-width="0.9" />
<line x1="388.50" y1="340.50" x2="388.50" y2="361.80" stroke="rgba(0,0,0,0.75)" stroke-width="0.95" />
<circle cx="388.10" cy="347.30" r="1.45" fill="#000" />
<circle cx="389.90" cy="345.50" r="1.45" fill="#000" />
<circle cx="387.90" cy="356.30" r="1.45" fill="#000" />
<circle cx="398.90" cy="357.70" r="1.45" fill="#000" />
<text x="275.00" y="397.60" font-size="11.2" fill="#2a3f5f" text-anchor="middle"  stroke="#2a3f5f" stroke-width="0.2">0</text>
<text x="304.30" y="397.60" font-size="11.2" fill="#2a3f5f" text-anchor="middle" textLength="19.6" lengthAdjust="spacingAndGlyphs"  stroke="#2a3f5f" stroke-width="0.2">10k</text>
<text x="333.60" y="397.60" font-size="11.2" fill="#2a3f5f" text-anchor="middle" textLength="19.6" lengthAdjust="spacingAndGlyphs"  stroke="#2a3f5f" stroke-width="0.2">20k</text>
<text x="362.90" y="397.60" font-size="11.2" fill="#2a3f5f" text-anchor="middle" textLength="19.6" lengthAdjust="spacingAndGlyphs"  stroke="#2a3f5f" stroke-width="0.2">30k</text>
<text x="387.50" y="397.60" font-size="11.2" fill="#2a3f5f" text-anchor="middle"  stroke="#2a3f5f" stroke-width="0.2">0</text>
<text x="408.80" y="397.60" font-size="11.2" fill="#2a3f5f" text-anchor="middle" textLength="13.0" lengthAdjust="spacingAndGlyphs"  stroke="#2a3f5f" stroke-width="0.2">20</text>
<text x="429.80" y="397.60" font-size="11.2" fill="#2a3f5f" text-anchor="middle" textLength="13.0" lengthAdjust="spacingAndGlyphs"  stroke="#2a3f5f" stroke-width="0.2">40</text>
<text x="451.00" y="397.60" font-size="11.2" fill="#2a3f5f" text-anchor="middle" textLength="13.0" lengthAdjust="spacingAndGlyphs"  stroke="#2a3f5f" stroke-width="0.2">60</text>
<text x="472.20" y="397.60" font-size="11.2" fill="#2a3f5f" text-anchor="middle" textLength="13.0" lengthAdjust="spacingAndGlyphs"  stroke="#2a3f5f" stroke-width="0.2">80</text>
<text x="500.80" y="87.50" font-size="11.1" fill="#2a3f5f" text-anchor="start" font-weight="bold" textLength="147.5" lengthAdjust="spacingAndGlyphs"  stroke="#2a3f5f" stroke-width="0.2">Transcript Structure Hue</text>
<line x1="500.80" y1="89.80" x2="648.00" y2="89.80" stroke="#8089a0" stroke-width="1" />
<rect x="500.30" y="104.20" width="31.80" height="5.80" fill="#636EFA" stroke="rgba(0,0,0,0.55)" stroke-width="0.5" />
<circle cx="516.30" cy="103.60" r="2.7" fill="#a0a0a0" opacity="0.6" stroke="#777" stroke-width="0.5"/>
<text x="538.00" y="107.60" font-size="11.2" fill="#2a3f5f" text-anchor="start" textLength="78" lengthAdjust="spacingAndGlyphs"  stroke="#2a3f5f" stroke-width="0.2">protein_coding</text>
<rect x="500.30" y="131.20" width="31.80" height="6.60" fill="#EF553B" stroke="rgba(0,0,0,0.55)" stroke-width="0.5" />
<circle cx="516.30" cy="131.30" r="2.7" fill="#a0a0a0" opacity="0.6" stroke="#777" stroke-width="0.5"/>
<text x="538.20" y="135.80" font-size="11.2" fill="#2a3f5f" text-anchor="start" textLength="172.6" lengthAdjust="spacingAndGlyphs"  stroke="#2a3f5f" stroke-width="0.2">protein_coding_CDS_not_defined</text>
<text x="500.80" y="162.50" font-size="11.1" fill="#2a3f5f" text-anchor="start" font-weight="bold" textLength="119.6" lengthAdjust="spacingAndGlyphs"  stroke="#2a3f5f" stroke-width="0.2">Expression Plot Hue</text>
<line x1="500.80" y1="164.80" x2="620.40" y2="164.80" stroke="#8089a0" stroke-width="1" />
<rect x="510.40" y="172.60" width="12.40" height="12.80" fill="#FAC650" stroke="rgba(0,0,0,0.66)" stroke-width="0.9" />
<text x="537.90" y="182.60" font-size="11.0" fill="#2a3f5f" text-anchor="start" textLength="15.2" lengthAdjust="spacingAndGlyphs"  stroke="#2a3f5f" stroke-width="0.2">AD</text>
<rect x="510.40" y="200.40" width="12.40" height="12.70" fill="#FC8CFA" stroke="rgba(0,0,0,0.66)" stroke-width="0.9" />
<text x="537.60" y="210.70" font-size="11.0" fill="#2a3f5f" text-anchor="start" textLength="38.5" lengthAdjust="spacingAndGlyphs"  stroke="#2a3f5f" stroke-width="0.2">Control</text>
<text x="5.40" y="437.60" font-size="12.3" fill="#000" text-anchor="start" font-weight="bold" >b</text>
<line x1="551.50" y1="461.20" x2="551.50" y2="505.80" stroke="#000" stroke-width="1.3" />
<line x1="551.50" y1="594.50" x2="551.50" y2="640.10" stroke="#000" stroke-width="1.3" />
<line x1="486.00" y1="461.20" x2="617.40" y2="461.20" stroke="#000" stroke-width="1.3" />
<line x1="486.00" y1="640.10" x2="617.40" y2="640.10" stroke="#000" stroke-width="1.3" />
<rect x="421.00" y="505.80" width="260.60" height="88.70" fill="#636EFA" stroke="#000" stroke-width="1.3" />
<line x1="421.00" y1="548.20" x2="681.60" y2="548.20" stroke="#000" stroke-width="1.3" />
<line x1="226.00" y1="720.80" x2="226.00" y2="730.20" stroke="#000" stroke-width="1.3" />
<line x1="226.00" y1="737.90" x2="226.00" y2="741.40" stroke="#000" stroke-width="1.3" />
<line x1="160.60" y1="720.80" x2="291.60" y2="720.80" stroke="#000" stroke-width="1.3" />
<line x1="160.60" y1="741.40" x2="291.60" y2="741.40" stroke="#000" stroke-width="1.3" />
<rect x="95.20" y="730.20" width="261.60" height="7.70" fill="#636EFA" stroke="#000" stroke-width="1.3" />
<line x1="95.20" y1="734.20" x2="356.80" y2="734.20" stroke="#000" stroke-width="1.3" />
<circle cx="520.20" cy="460.90" r="2.0" fill="#000" opacity="0.68"/>
<circle cx="523.00" cy="463.20" r="2.0" fill="#000" opacity="0.68"/>
<circle cx="526.20" cy="464.20" r="2.0" fill="#000" opacity="0.68"/>
<circle cx="534.10" cy="465.60" r="2.0" fill="#000" opacity="0.68"/>
<circle cx="543.90" cy="464.60" r="2.0" fill="#000" opacity="0.68"/>
<circle cx="574.50" cy="461.80" r="2.0" fill="#000" opacity="0.68"/>
<circle cx="579.10" cy="465.30" r="2.0" fill="#000" opacity="0.68"/>
<circle cx="545.30" cy="474.00" r="2.0" fill="#000" opacity="0.68"/>
<circle cx="541.10" cy="476.20" r="2.0" fill="#000" opacity="0.68"/>
<circle cx="562.30" cy="474.80" r="2.0" fill="#000" opacity="0.68"/>
<circle cx="522.60" cy="479.50" r="2.0" fill="#000" opacity="0.68"/>
<circle cx="535.10" cy="485.50" r="2.0" fill="#000" opacity="0.68"/>
<circle cx="568.20" cy="485.80" r="2.0" fill="#000" opacity="0.68"/>
<circle cx="582.20" cy="488.30" r="2.0" fill="#000" opacity="0.68"/>
<circle cx="579.80" cy="492.90" r="2.0" fill="#000" opacity="0.68"/>
<circle cx="520.20" cy="501.80" r="2.0" fill="#000" opacity="0.68"/>
<circle cx="527.60" cy="501.80" r="2.0" fill="#000" opacity="0.68"/>
<circle cx="533.00" cy="502.60" r="2.0" fill="#000" opacity="0.68"/>
<circle cx="540.10" cy="504.00" r="2.0" fill="#000" opacity="0.68"/>
<circle cx="548.70" cy="504.30" r="2.0" fill="#000" opacity="0.68"/>
<circle cx="549.90" cy="506.80" r="2.0" fill="#000" opacity="0.68"/>
<circle cx="558.20" cy="504.00" r="2.0" fill="#000" opacity="0.68"/>
<circle cx="561.30" cy="502.60" r="2.0" fill="#000" opacity="0.68"/>
<circle cx="567.10" cy="502.20" r="2.0" fill="#000" opacity="0.68"/>
<circle cx="568.90" cy="503.60" r="2.0" fill="#000" opacity="0.68"/>
<circle cx="573.50" cy="506.00" r="2.0" fill="#000" opacity="0.68"/>
<circle cx="535.50" cy="511.70" r="2.0" fill="#000" opacity="0.68"/>
<circle cx="548.50" cy="512.00" r="2.0" fill="#000" opacity="0.68"/>
<circle cx="581.50" cy="515.70" r="2.0" fill="#000" opacity="0.68"/>
<circle cx="527.60" cy="520.30" r="2.0" fill="#000" opacity="0.68"/>
<circle cx="574.10" cy="518.00" r="2.0" fill="#000" opacity="0.68"/>
<circle cx="564.80" cy="521.30" r="2.0" fill="#000" opacity="0.68"/>
<circle cx="547.80" cy="523.40" r="2.0" fill="#000" opacity="0.68"/>
<circle cx="538.70" cy="525.90" r="2.0" fill="#000" opacity="0.68"/>
<circle cx="519.90" cy="527.00" r="2.0" fill="#000" opacity="0.68"/>
<circle cx="571.70" cy="526.20" r="2.0" fill="#000" opacity="0.68"/>
<circle cx="579.40" cy="526.20" r="2.0" fill="#000" opacity="0.68"/>
<circle cx="535.50" cy="528.70" r="2.0" fill="#000" opacity="0.68"/>
<circle cx="548.00" cy="529.40" r="2.0" fill="#000" opacity="0.68"/>
<circle cx="555.00" cy="531.90" r="2.0" fill="#000" opacity="0.68"/>
<circle cx="556.40" cy="536.10" r="2.0" fill="#000" opacity="0.68"/>
<circle cx="531.30" cy="537.50" r="2.0" fill="#000" opacity="0.68"/>
<circle cx="520.50" cy="541.60" r="2.0" fill="#000" opacity="0.68"/>
<circle cx="530.90" cy="542.60" r="2.0" fill="#000" opacity="0.68"/>
<circle cx="536.20" cy="541.50" r="2.0" fill="#000" opacity="0.68"/>
<circle cx="553.20" cy="544.00" r="2.0" fill="#000" opacity="0.68"/>
<circle cx="523.00" cy="547.10" r="2.0" fill="#000" opacity="0.68"/>
<circle cx="541.80" cy="548.20" r="2.0" fill="#000" opacity="0.68"/>
<circle cx="568.50" cy="551.10" r="2.0" fill="#000" opacity="0.68"/>
<circle cx="577.30" cy="556.00" r="2.0" fill="#000" opacity="0.68"/>
<circle cx="574.50" cy="558.80" r="2.0" fill="#000" opacity="0.68"/>
<circle cx="576.60" cy="561.60" r="2.0" fill="#000" opacity="0.68"/>
<circle cx="523.00" cy="559.80" r="2.0" fill="#000" opacity="0.68"/>
<circle cx="548.00" cy="563.00" r="2.0" fill="#000" opacity="0.68"/>
<circle cx="558.80" cy="561.20" r="2.0" fill="#000" opacity="0.68"/>
<circle cx="559.90" cy="566.50" r="2.0" fill="#000" opacity="0.68"/>
<circle cx="560.90" cy="569.90" r="2.0" fill="#000" opacity="0.68"/>
<circle cx="533.80" cy="567.40" r="2.0" fill="#000" opacity="0.68"/>
<circle cx="539.00" cy="570.60" r="2.0" fill="#000" opacity="0.68"/>
<circle cx="567.80" cy="577.90" r="2.0" fill="#000" opacity="0.68"/>
<circle cx="543.90" cy="577.90" r="2.0" fill="#000" opacity="0.68"/>
<circle cx="542.20" cy="581.40" r="2.0" fill="#000" opacity="0.68"/>
<circle cx="548.00" cy="580.40" r="2.0" fill="#000" opacity="0.68"/>
<circle cx="533.10" cy="581.80" r="2.0" fill="#000" opacity="0.68"/>
<circle cx="529.90" cy="583.60" r="2.0" fill="#000" opacity="0.68"/>
<circle cx="539.40" cy="586.70" r="2.0" fill="#000" opacity="0.68"/>
<circle cx="526.50" cy="587.80" r="2.0" fill="#000" opacity="0.68"/>
<circle cx="527.90" cy="590.10" r="2.0" fill="#000" opacity="0.68"/>
<circle cx="529.20" cy="591.30" r="2.0" fill="#000" opacity="0.68"/>
<circle cx="566.90" cy="590.40" r="2.0" fill="#000" opacity="0.68"/>
<circle cx="578.30" cy="594.00" r="2.0" fill="#000" opacity="0.68"/>
<circle cx="532.70" cy="595.70" r="2.0" fill="#000" opacity="0.68"/>
<circle cx="535.20" cy="597.10" r="2.0" fill="#000" opacity="0.68"/>
<circle cx="543.90" cy="596.40" r="2.0" fill="#000" opacity="0.68"/>
<circle cx="520.90" cy="597.80" r="2.0" fill="#000" opacity="0.68"/>
<circle cx="520.20" cy="601.30" r="2.0" fill="#000" opacity="0.68"/>
<circle cx="528.80" cy="598.80" r="2.0" fill="#000" opacity="0.68"/>
<circle cx="541.10" cy="600.90" r="2.0" fill="#000" opacity="0.68"/>
<circle cx="550.10" cy="602.70" r="2.0" fill="#000" opacity="0.68"/>
<circle cx="551.80" cy="603.40" r="2.0" fill="#000" opacity="0.68"/>
<circle cx="567.30" cy="600.90" r="2.0" fill="#000" opacity="0.68"/>
<circle cx="583.80" cy="598.50" r="2.0" fill="#000" opacity="0.68"/>
<circle cx="560.20" cy="606.90" r="2.0" fill="#000" opacity="0.68"/>
<circle cx="583.10" cy="605.90" r="2.0" fill="#000" opacity="0.68"/>
<circle cx="523.70" cy="605.70" r="2.0" fill="#000" opacity="0.68"/>
<circle cx="521.90" cy="608.00" r="2.0" fill="#000" opacity="0.68"/>
<circle cx="533.10" cy="609.60" r="2.0" fill="#000" opacity="0.68"/>
<circle cx="532.00" cy="611.30" r="2.0" fill="#000" opacity="0.68"/>
<circle cx="536.20" cy="611.00" r="2.0" fill="#000" opacity="0.68"/>
<circle cx="541.80" cy="613.80" r="2.0" fill="#000" opacity="0.68"/>
<circle cx="532.70" cy="623.10" r="2.0" fill="#000" opacity="0.68"/>
<circle cx="574.90" cy="626.80" r="2.0" fill="#000" opacity="0.68"/>
<circle cx="549.70" cy="628.70" r="2.0" fill="#000" opacity="0.68"/>
<circle cx="569.60" cy="639.20" r="2.0" fill="#000" opacity="0.68"/>
<circle cx="579.40" cy="526.20" r="2.0" fill="#000" opacity="0.68"/>
<circle cx="548.00" cy="529.40" r="2.0" fill="#000" opacity="0.68"/>
<circle cx="560.20" cy="606.90" r="2.0" fill="#000" opacity="0.68"/>
<circle cx="567.30" cy="600.90" r="2.0" fill="#000" opacity="0.68"/>
<circle cx="558.20" cy="504.00" r="2.0" fill="#000" opacity="0.68"/>
<circle cx="547.90" cy="549.10" r="2.0" fill="#000" opacity="0.68"/>
<circle cx="219.20" cy="698.40" r="2.0" fill="#000" opacity="0.68"/>
<circle cx="242.90" cy="709.50" r="2.0" fill="#000" opacity="0.68"/>
<circle cx="254.10" cy="717.30" r="2.0" fill="#000" opacity="0.68"/>
<circle cx="200.40" cy="721.00" r="2.0" fill="#000" opacity="0.68"/>
<circle cx="211.20" cy="721.20" r="2.0" fill="#000" opacity="0.68"/>
<circle cx="246.80" cy="720.60" r="2.0" fill="#000" opacity="0.68"/>
<circle cx="248.00" cy="721.40" r="2.0" fill="#000" opacity="0.68"/>
<circle cx="224.00" cy="722.90" r="2.0" fill="#000" opacity="0.68"/>
<circle cx="197.30" cy="725.70" r="2.0" fill="#000" opacity="0.68"/>
<circle cx="196.10" cy="727.90" r="2.0" fill="#000" opacity="0.68"/>
<circle cx="208.10" cy="726.40" r="2.0" fill="#000" opacity="0.68"/>
<circle cx="206.20" cy="728.20" r="2.0" fill="#000" opacity="0.68"/>
<circle cx="214.90" cy="727.30" r="2.0" fill="#000" opacity="0.68"/>
<circle cx="223.40" cy="728.40" r="2.0" fill="#000" opacity="0.68"/>
<circle cx="240.20" cy="726.80" r="2.0" fill="#000" opacity="0.68"/>
<circle cx="245.20" cy="724.00" r="2.0" fill="#000" opacity="0.68"/>
<circle cx="257.20" cy="726.20" r="2.0" fill="#000" opacity="0.68"/>
<circle cx="246.30" cy="729.00" r="2.0" fill="#000" opacity="0.68"/>
<circle cx="246.80" cy="741.80" r="2.0" fill="#000" opacity="0.68"/>
<circle cx="229.60" cy="740.70" r="2.0" fill="#000" opacity="0.68"/>
<circle cx="214.37" cy="736.87" r="2.0" fill="#000" opacity="0.68"/>
<circle cx="197.78" cy="737.80" r="2.0" fill="#000" opacity="0.68"/>
<circle cx="228.37" cy="733.86" r="2.0" fill="#000" opacity="0.68"/>
<circle cx="226.49" cy="735.22" r="2.0" fill="#000" opacity="0.68"/>
<circle cx="195.47" cy="733.53" r="2.0" fill="#000" opacity="0.68"/>
<circle cx="198.99" cy="734.93" r="2.0" fill="#000" opacity="0.68"/>
<circle cx="221.02" cy="735.17" r="2.0" fill="#000" opacity="0.68"/>
<circle cx="207.73" cy="733.23" r="2.0" fill="#000" opacity="0.68"/>
<circle cx="234.41" cy="737.98" r="2.0" fill="#000" opacity="0.68"/>
<circle cx="219.18" cy="733.31" r="2.0" fill="#000" opacity="0.68"/>
<circle cx="257.43" cy="739.80" r="2.0" fill="#000" opacity="0.68"/>
<circle cx="212.11" cy="736.10" r="2.0" fill="#000" opacity="0.68"/>
<circle cx="202.52" cy="736.28" r="2.0" fill="#000" opacity="0.68"/>
<circle cx="246.86" cy="736.12" r="2.0" fill="#000" opacity="0.68"/>
<circle cx="204.93" cy="731.02" r="2.0" fill="#000" opacity="0.68"/>
<circle cx="217.58" cy="732.54" r="2.0" fill="#000" opacity="0.68"/>
<circle cx="229.15" cy="735.41" r="2.0" fill="#000" opacity="0.68"/>
<circle cx="206.59" cy="734.88" r="2.0" fill="#000" opacity="0.68"/>
<circle cx="237.91" cy="732.32" r="2.0" fill="#000" opacity="0.68"/>
<circle cx="231.65" cy="735.57" r="2.0" fill="#000" opacity="0.68"/>
<circle cx="222.91" cy="732.97" r="2.0" fill="#000" opacity="0.68"/>
<circle cx="239.13" cy="739.24" r="2.0" fill="#000" opacity="0.68"/>
<circle cx="209.11" cy="731.45" r="2.0" fill="#000" opacity="0.68"/>
<circle cx="250.76" cy="732.96" r="2.0" fill="#000" opacity="0.68"/>
<circle cx="241.14" cy="732.65" r="2.0" fill="#000" opacity="0.68"/>
<circle cx="200.79" cy="742.12" r="2.0" fill="#000" opacity="0.68"/>
<circle cx="220.60" cy="734.57" r="2.0" fill="#000" opacity="0.68"/>
<circle cx="225.27" cy="732.89" r="2.0" fill="#000" opacity="0.68"/>
<circle cx="195.59" cy="732.16" r="2.0" fill="#000" opacity="0.68"/>
<circle cx="230.82" cy="730.35" r="2.0" fill="#000" opacity="0.68"/>
<circle cx="250.78" cy="732.82" r="2.0" fill="#000" opacity="0.68"/>
<circle cx="232.23" cy="738.48" r="2.0" fill="#000" opacity="0.68"/>
<circle cx="231.27" cy="729.34" r="2.0" fill="#000" opacity="0.68"/>
<circle cx="255.35" cy="735.96" r="2.0" fill="#000" opacity="0.68"/>
<circle cx="224.29" cy="733.99" r="2.0" fill="#000" opacity="0.68"/>
<circle cx="239.30" cy="733.65" r="2.0" fill="#000" opacity="0.68"/>
<circle cx="235.71" cy="739.70" r="2.0" fill="#000" opacity="0.68"/>
<circle cx="211.78" cy="734.27" r="2.0" fill="#000" opacity="0.68"/>
<circle cx="218.46" cy="734.21" r="2.0" fill="#000" opacity="0.68"/>
<circle cx="223.47" cy="733.98" r="2.0" fill="#000" opacity="0.68"/>
<circle cx="204.09" cy="735.22" r="2.0" fill="#000" opacity="0.68"/>
<circle cx="243.70" cy="735.16" r="2.0" fill="#000" opacity="0.68"/>
<circle cx="201.54" cy="734.54" r="2.0" fill="#000" opacity="0.68"/>
<circle cx="250.51" cy="737.29" r="2.0" fill="#000" opacity="0.68"/>
<circle cx="198.32" cy="731.14" r="2.0" fill="#000" opacity="0.68"/>
<circle cx="251.30" cy="735.61" r="2.0" fill="#000" opacity="0.68"/>
<circle cx="247.07" cy="735.99" r="2.0" fill="#000" opacity="0.68"/>
<circle cx="220.41" cy="732.79" r="2.0" fill="#000" opacity="0.68"/>
<circle cx="216.68" cy="739.76" r="2.0" fill="#000" opacity="0.68"/>
<circle cx="202.96" cy="729.82" r="2.0" fill="#000" opacity="0.68"/>
<circle cx="204.63" cy="734.73" r="2.0" fill="#000" opacity="0.68"/>
<circle cx="225.01" cy="736.53" r="2.0" fill="#000" opacity="0.68"/>
<circle cx="231.88" cy="734.48" r="2.0" fill="#000" opacity="0.68"/>
<circle cx="220.65" cy="734.75" r="2.0" fill="#000" opacity="0.68"/>
<circle cx="217.37" cy="728.17" r="2.0" fill="#000" opacity="0.68"/>
<circle cx="238.57" cy="731.70" r="2.0" fill="#000" opacity="0.68"/>
<circle cx="227.02" cy="731.39" r="2.0" fill="#000" opacity="0.68"/>
<circle cx="196.56" cy="731.67" r="2.0" fill="#000" opacity="0.68"/>
<circle cx="252.37" cy="735.57" r="2.0" fill="#000" opacity="0.68"/>
<circle cx="245.66" cy="728.90" r="2.0" fill="#000" opacity="0.68"/>
<circle cx="218.90" cy="733.45" r="2.0" fill="#000" opacity="0.68"/>
<circle cx="234.86" cy="735.28" r="2.0" fill="#000" opacity="0.68"/>
<circle cx="197.11" cy="736.25" r="2.0" fill="#000" opacity="0.68"/>
<circle cx="203.71" cy="735.29" r="2.0" fill="#000" opacity="0.68"/>
<circle cx="215.44" cy="734.56" r="2.0" fill="#000" opacity="0.68"/>
<circle cx="202.98" cy="734.52" r="2.0" fill="#000" opacity="0.68"/>
<circle cx="199.70" cy="734.08" r="2.0" fill="#000" opacity="0.68"/>
<circle cx="250.71" cy="734.98" r="2.0" fill="#000" opacity="0.68"/>
<circle cx="233.53" cy="735.77" r="2.0" fill="#000" opacity="0.68"/>
<circle cx="215.93" cy="736.22" r="2.0" fill="#000" opacity="0.68"/>
<circle cx="217.03" cy="738.40" r="2.0" fill="#000" opacity="0.68"/>
<circle cx="258.54" cy="738.30" r="2.0" fill="#000" opacity="0.68"/>
<circle cx="223.76" cy="733.32" r="2.0" fill="#000" opacity="0.68"/>
<circle cx="199.74" cy="734.62" r="2.0" fill="#000" opacity="0.68"/>
<circle cx="215.61" cy="734.01" r="2.0" fill="#000" opacity="0.68"/>
<circle cx="203.65" cy="739.74" r="2.0" fill="#000" opacity="0.68"/>
<circle cx="194.52" cy="737.77" r="2.0" fill="#000" opacity="0.68"/>
<circle cx="202.68" cy="733.46" r="2.0" fill="#000" opacity="0.68"/>
<circle cx="228.85" cy="737.88" r="2.0" fill="#000" opacity="0.68"/>
<circle cx="257.58" cy="735.08" r="2.0" fill="#000" opacity="0.68"/>
<circle cx="194.00" cy="733.00" r="2.0" fill="#000" opacity="0.68"/>
<circle cx="195.00" cy="736.00" r="2.0" fill="#000" opacity="0.68"/>
<circle cx="193.50" cy="738.50" r="2.0" fill="#000" opacity="0.68"/>
<circle cx="196.50" cy="734.50" r="2.0" fill="#000" opacity="0.68"/>
<circle cx="198.00" cy="737.00" r="2.0" fill="#000" opacity="0.68"/>
<circle cx="194.50" cy="731.00" r="2.0" fill="#000" opacity="0.68"/>
<circle cx="199.00" cy="739.00" r="2.0" fill="#000" opacity="0.68"/>
<polyline points="324.2,479.3 324.2,472.4 447.5,472.4 447.5,479.3" fill="none" stroke="#555" stroke-width="0.9"/>
<line x1="375.90" y1="460.50" x2="375.90" y2="465.90" stroke="#222" stroke-width="0.95" />
<line x1="373.56" y1="461.85" x2="378.24" y2="464.55" stroke="#222" stroke-width="0.95" />
<line x1="378.24" y1="461.85" x2="373.56" y2="464.55" stroke="#222" stroke-width="0.95" />
<line x1="381.50" y1="460.50" x2="381.50" y2="465.90" stroke="#222" stroke-width="0.95" />
<line x1="379.16" y1="461.85" x2="383.84" y2="464.55" stroke="#222" stroke-width="0.95" />
<line x1="383.84" y1="461.85" x2="379.16" y2="464.55" stroke="#222" stroke-width="0.95" />
<line x1="387.10" y1="460.50" x2="387.10" y2="465.90" stroke="#222" stroke-width="0.95" />
<line x1="384.76" y1="461.85" x2="389.44" y2="464.55" stroke="#222" stroke-width="0.95" />
<line x1="389.44" y1="461.85" x2="384.76" y2="464.55" stroke="#222" stroke-width="0.95" />
<line x1="392.80" y1="460.50" x2="392.80" y2="465.90" stroke="#222" stroke-width="0.95" />
<line x1="390.46" y1="461.85" x2="395.14" y2="464.55" stroke="#222" stroke-width="0.95" />
<line x1="395.14" y1="461.85" x2="390.46" y2="464.55" stroke="#222" stroke-width="0.95" />
<rect x="63.4" y="447.6" width="650.8" height="307.8" fill="none" stroke="#000" stroke-width="1.3"/>
<line x1="58.80" y1="736.20" x2="63.40" y2="736.20" stroke="#000" stroke-width="1.2" />
<text x="53.40" y="740.65" font-size="12.2" fill="#222" text-anchor="end" textLength="21.2" lengthAdjust="spacingAndGlyphs" stroke="#222" stroke-width="0.25">120</text>
<line x1="58.80" y1="692.88" x2="63.40" y2="692.88" stroke="#000" stroke-width="1.2" />
<text x="53.40" y="697.33" font-size="12.2" fill="#222" text-anchor="end" textLength="21.2" lengthAdjust="spacingAndGlyphs" stroke="#222" stroke-width="0.25">140</text>
<line x1="58.80" y1="649.57" x2="63.40" y2="649.57" stroke="#000" stroke-width="1.2" />
<text x="53.40" y="654.02" font-size="12.2" fill="#222" text-anchor="end" textLength="21.2" lengthAdjust="spacingAndGlyphs" stroke="#222" stroke-width="0.25">160</text>
<line x1="58.80" y1="606.25" x2="63.40" y2="606.25" stroke="#000" stroke-width="1.2" />
<text x="53.40" y="610.70" font-size="12.2" fill="#222" text-anchor="end" textLength="21.2" lengthAdjust="spacingAndGlyphs" stroke="#222" stroke-width="0.25">180</text>
<line x1="58.80" y1="562.94" x2="63.40" y2="562.94" stroke="#000" stroke-width="1.2" />
<text x="53.40" y="567.39" font-size="12.2" fill="#222" text-anchor="end" textLength="21.2" lengthAdjust="spacingAndGlyphs" stroke="#222" stroke-width="0.25">200</text>
<line x1="58.80" y1="519.62" x2="63.40" y2="519.62" stroke="#000" stroke-width="1.2" />
<text x="53.40" y="524.07" font-size="12.2" fill="#222" text-anchor="end" textLength="21.2" lengthAdjust="spacingAndGlyphs" stroke="#222" stroke-width="0.25">220</text>
<line x1="58.80" y1="476.30" x2="63.40" y2="476.30" stroke="#000" stroke-width="1.2" />
<text x="53.40" y="480.75" font-size="12.2" fill="#222" text-anchor="end" textLength="21.2" lengthAdjust="spacingAndGlyphs" stroke="#222" stroke-width="0.25">240</text>
<line x1="226.00" y1="755.10" x2="226.00" y2="759.80" stroke="#000" stroke-width="1.2" />
<line x1="551.50" y1="755.10" x2="551.50" y2="759.80" stroke="#000" stroke-width="1.2" />
<text x="226.00" y="774.10" font-size="12.1" fill="#222" text-anchor="middle" textLength="82" lengthAdjust="spacingAndGlyphs"  stroke="#222" stroke-width="0.2">RNApysoforms</text>
<text x="551.50" y="774.10" font-size="12.1" fill="#222" text-anchor="middle" textLength="68.2" lengthAdjust="spacingAndGlyphs"  stroke="#222" stroke-width="0.2">ggtranscript</text>
<text transform="translate(11.2,666.6) rotate(-90)" font-size="11.2" fill="#222" stroke="#222" stroke-width="0.2" textLength="131" lengthAdjust="spacingAndGlyphs">Elapsed time (seconds)</text>
</svg></body></html>
